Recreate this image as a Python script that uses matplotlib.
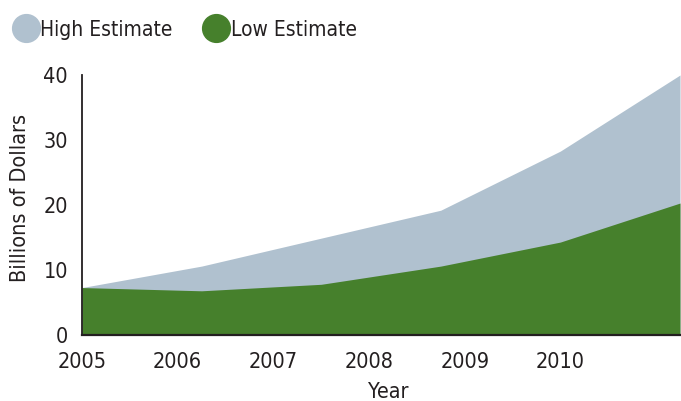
import matplotlib
matplotlib.use("Agg")
from matplotlib import pyplot as plt
from matplotlib.lines import Line2D

# data (billions of dollars)
years = [2005, 2006.25, 2007.5, 2008.75, 2010, 2011.25]
high_estimate = [7.3, 10.6, 14.9, 19.2, 28.3, 40.0]
low_estimate = [7.3, 6.8, 7.8, 10.6, 14.3, 20.3]

tick_years = [2005, 2006, 2007, 2008, 2009, 2010]
y_ticks = [0, 10, 20, 30, 40]

HIGH_COLOR = "#b0c1cf"
LOW_COLOR = "#46802c"
TEXT_COLOR = "#231f20"

plt.rcParams.update({
    "font.family": ["DejaVu Sans"],
    "font.stretch": "condensed",
    "text.color": TEXT_COLOR,
    "axes.labelcolor": TEXT_COLOR,
    "xtick.color": TEXT_COLOR,
    "ytick.color": TEXT_COLOR,
})

fig = plt.figure(figsize=(6.81, 4.01), dpi=100)
ax = fig.add_axes([82 / 681, 66 / 401, 598 / 681, 260 / 401])

ax.fill_between(years, 0, high_estimate, color=HIGH_COLOR, linewidth=0)
ax.fill_between(years, 0, low_estimate, color=LOW_COLOR, linewidth=0)

ax.set_xlim(years[0], years[-1])
ax.set_ylim(0, 40)
ax.set_xticks(tick_years)
ax.set_xticklabels([str(y) for y in tick_years])
ax.set_yticks(y_ticks)
ax.tick_params(axis="both", length=0, labelsize=15.5)
ax.tick_params(axis="x", pad=12)
ax.tick_params(axis="y", pad=10)

ax.spines["top"].set_visible(False)
ax.spines["right"].set_visible(False)
ax.spines["left"].set_color(TEXT_COLOR)
ax.spines["bottom"].set_color(TEXT_COLOR)
ax.spines["left"].set_linewidth(1.3)
ax.spines["bottom"].set_linewidth(1.6)

ax.set_xlabel("Year", fontsize=15.5)
ax.xaxis.set_label_coords(0.512, -0.18)
ax.set_ylabel("Billions of Dollars", fontsize=15.5)
ax.yaxis.set_label_coords(-0.104, 0.527)
ax.yaxis.label.set_verticalalignment("center")

handles = [
    Line2D([], [], marker="o", linestyle="none", markersize=20,
           markerfacecolor=HIGH_COLOR, markeredgecolor=HIGH_COLOR),
    Line2D([], [], marker="o", linestyle="none", markersize=20,
           markerfacecolor=LOW_COLOR, markeredgecolor=LOW_COLOR),
]
fig.legend(handles, ["High Estimate", "Low Estimate"], loc="upper left",
           bbox_to_anchor=(-0.005, 0.998), ncol=2, frameon=False,
           fontsize=15, handlelength=1.0, handletextpad=0.2,
           columnspacing=1.6)

plt.savefig("out.png", dpi=100)
